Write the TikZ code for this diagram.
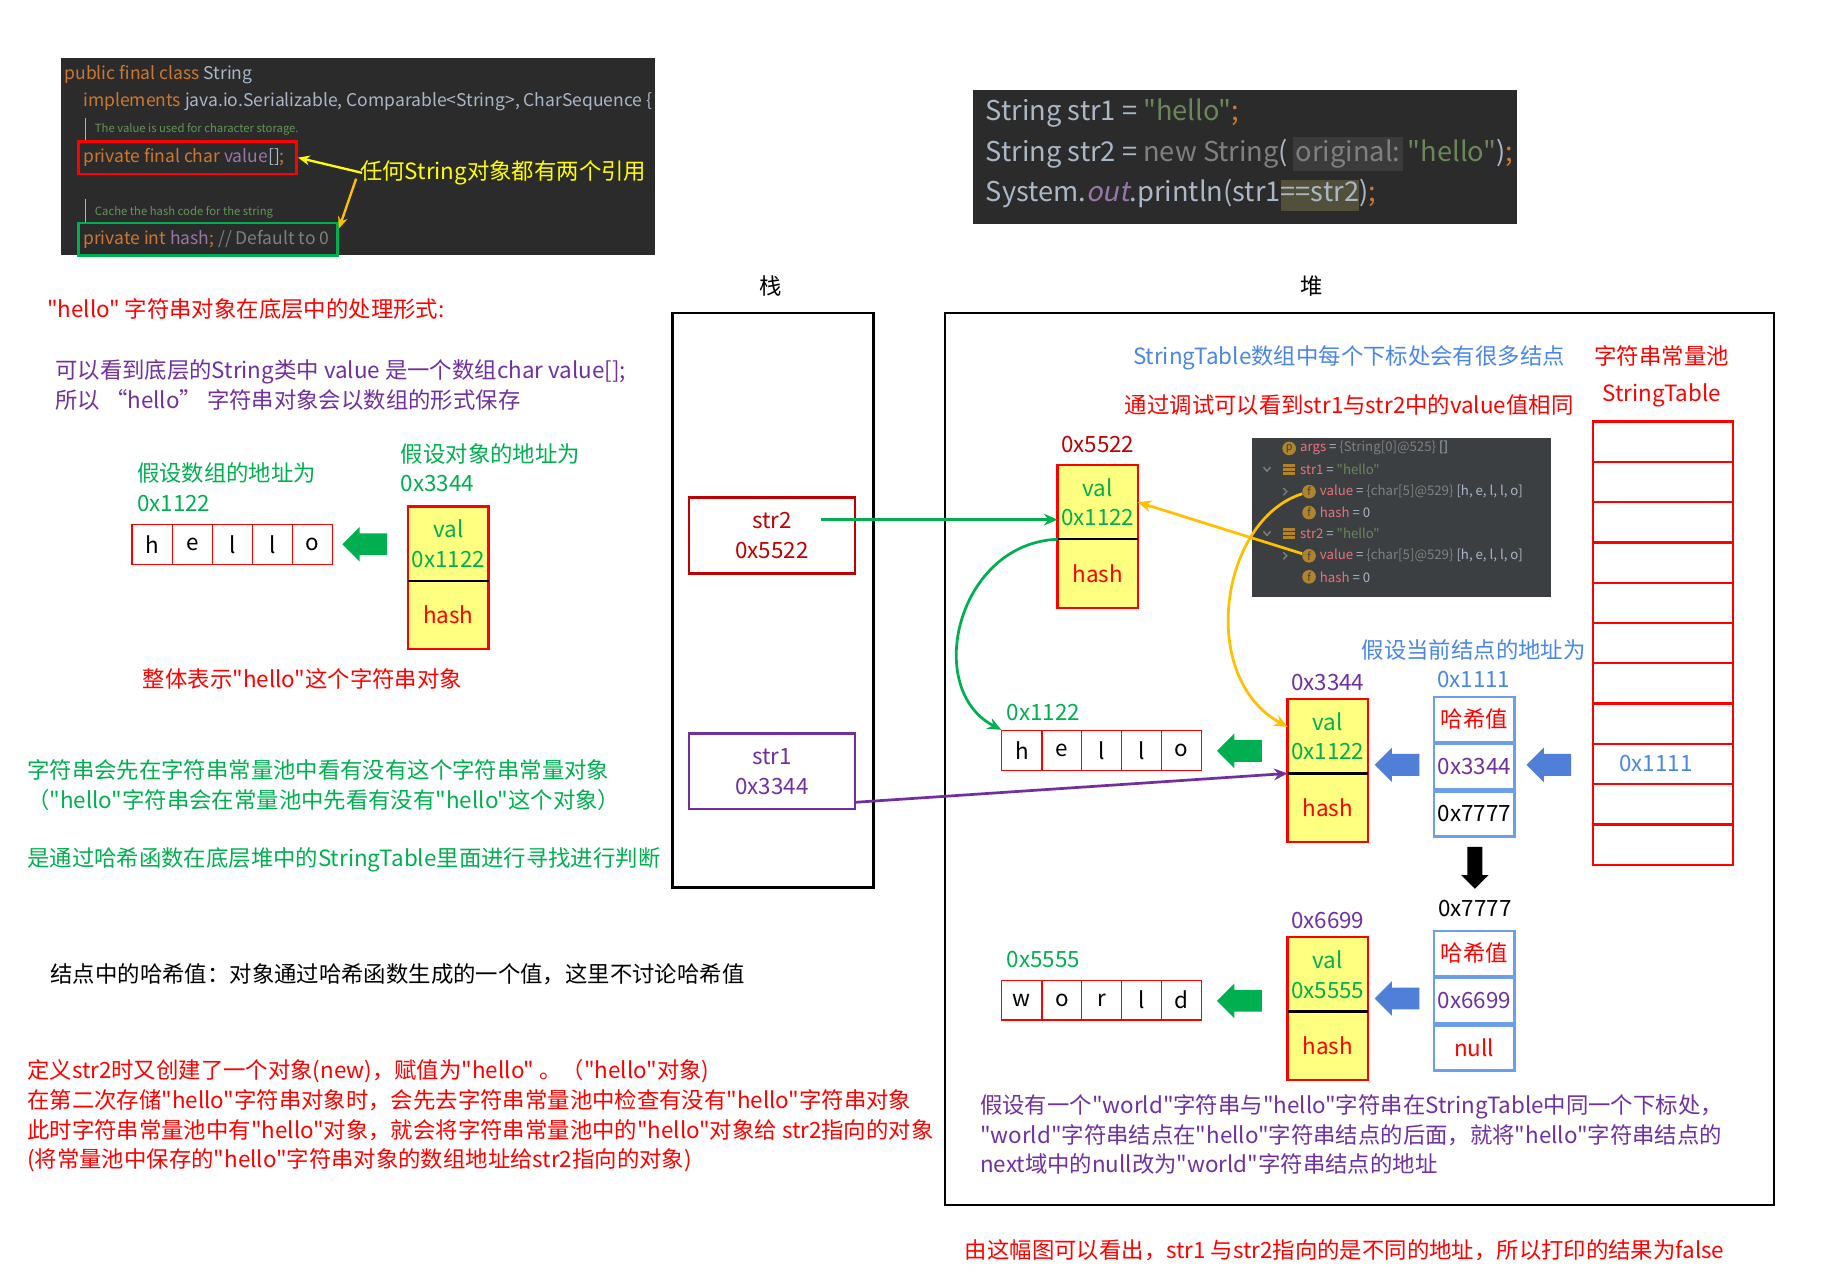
\documentclass[tikz,border=0pt]{standalone}
\usepackage{fontspec}
\setmainfont{Noto Sans CJK SC}[AutoFakeSlant=0.2,Ligatures=TeXOff]
\usetikzlibrary{shapes.arrows,arrows.meta,positioning,calc}
\definecolor{jred}{HTML}{FF0000}
\definecolor{jdark}{HTML}{C00000}
\definecolor{jgreen}{HTML}{00B050}
\definecolor{jpurple}{HTML}{7030A0}
\definecolor{jblue}{HTML}{4A86E8}
\definecolor{arrblue}{HTML}{4F7FD6}
\definecolor{nodeblue}{HTML}{6D9EEB}
\definecolor{objfill}{HTML}{FFFF80}
\definecolor{jorange}{HTML}{FFC000}
\definecolor{jyellow}{HTML}{FFFF00}
\definecolor{codebg}{HTML}{2B2B2B}
\definecolor{dbgbg}{HTML}{3C3F41}
\definecolor{kwor}{HTML}{CC7832}
\definecolor{idgray}{HTML}{A9B7C6}
\definecolor{strgrn}{HTML}{6A8759}
\definecolor{fldpur}{HTML}{9876AA}
\definecolor{cmtgrn}{HTML}{629755}
\definecolor{dimgray}{HTML}{808080}
\definecolor{inlaybg}{HTML}{3B3B3B}
\definecolor{hlbg}{HTML}{52503A}
\definecolor{dbgname}{HTML}{E5737D}
\definecolor{dbgicon}{HTML}{B0842C}
\newcommand{\mainsz}{\fontsize{11.5}{15.3}\selectfont}
\newcommand{\codesz}{\fontsize{9}{11}\selectfont}
\newcommand{\bigcode}{\fontsize{14}{16}\selectfont}
\newcommand{\tinysz}{\fontsize{5.8}{7}\selectfont}
\newcommand{\dbgsz}{\fontsize{6.8}{8}\selectfont}

\begin{document}
\begin{tikzpicture}[x=0.6pt,y=-0.6pt,font=\mainsz,
  every node/.style={inner sep=0pt},
  txt/.style={anchor=west,align=left},
  cell/.style={draw=jred,line width=0.6pt,minimum width=20.6pt,minimum height=20.4pt,text=black},
  objtop/.style={fill=objfill,minimum width=40.8pt,minimum height=37.8pt,align=center,text=jgreen},
  objbot/.style={fill=objfill,minimum width=40.8pt,minimum height=34.8pt,text=jred},
  objedge/.style={draw=jred,line width=1.2pt},
  hrow/.style={draw=nodeblue,line width=1.2pt,minimum width=41.4pt,minimum height=23.1pt},
  slot/.style={draw=jred,line width=1.2pt,minimum width=72pt,minimum height=20.7pt},
  blk/.style={single arrow,single arrow head extend=3.3pt,inner sep=5.4pt,minimum height=23pt,draw=none},
  link/.style={-{Stealth[length=7pt,width=6pt]},line width=1.4pt},
  stackvar/.style={line width=1.2pt,minimum width=85.2pt,minimum height=39pt,align=center},
  icon/.style={circle,fill=dbgicon,minimum size=7pt,font=\fontsize{5.5}{5.5}\selectfont,text=dbgbg}]
\path[use as bounding box,fill=white] (0,0) rectangle (1568,1100);

% source of String
\fill[codebg] (52,50) rectangle (561,218);
\node[txt,font=\codesz] (cl1) at (55,64) {\textcolor{kwor}{public final class} \textcolor{idgray}{String}};
\node[txt,font=\codesz] (cl2) at (71,87) {\textcolor{kwor}{implements} \textcolor{idgray}{java.io.Serializable, Comparable<String>, CharSequence \{}};
\draw[dimgray!60,line width=0.6pt] (73,101) -- (73,120);
\node[txt,font=\tinysz,text=cmtgrn] (cm1) at (81,111) {The value is used for character storage.};
\node[draw=jred,line width=1.5pt,minimum width=112.2pt,minimum height=16.8pt,font=\codesz] (codeVal) at (160.5,135)
  {\makebox[107pt][l]{\textcolor{kwor}{private final char} \textcolor{fldpur}{value}\textcolor{idgray}{[]}\textcolor{kwor}{;}}};
\draw[dimgray!60,line width=0.6pt] (73,170) -- (73,190);
\node[txt,font=\tinysz,text=cmtgrn] (cm2) at (81,182) {Cache the hash code for the string};
\node[draw=jgreen,line width=1.5pt,minimum width=133.2pt,minimum height=16.8pt,font=\codesz] (codeHash) at (178,205)
  {\makebox[128pt][l]{\textcolor{kwor}{private int} \textcolor{fldpur}{hash}\textcolor{kwor}{;} \textcolor{dimgray}{// Default to 0}}};
\node[txt,text=jyellow] (twoRef) at (308,148) {任何String对象都有两个引用};
\draw[-{Stealth[length=6pt,width=5pt]},jyellow,line width=1.2pt] ($(twoRef.west)+(2,0)$) -- (codeVal.east);
\draw[-{Stealth[length=6pt,width=5pt]},jorange,line width=1.2pt] ($(twoRef.west)+(-3,5)$) -- ($(codeHash.north east)+(0,6)$);

% test code
\fill[codebg] (833,77) rectangle (1299,192);
\node[txt,font=\bigcode] (m1) at (844,97) {\textcolor{idgray}{String str1 = }\textcolor{strgrn}{"hello"}\textcolor{kwor}{;}};
\node[txt,font=\bigcode] (m2) at (844,132) {\textcolor{idgray}{String str2 = }\textcolor{dimgray}{new String}\textcolor{idgray}{(}\,{\fboxsep=1.5pt\colorbox{inlaybg}{\textcolor{dimgray}{original:}}}\,\textcolor{strgrn}{"hello"}\textcolor{idgray}{)}\textcolor{kwor}{;}};
\node[txt,font=\bigcode] (m3) at (844,167) {\textcolor{idgray}{System.}\textcolor{fldpur}{\itshape out}\textcolor{idgray}{.println(str1}{\fboxsep=0pt\colorbox{hlbg}{\strut\textcolor{idgray}{==str2}}}\textcolor{idgray}{)}\textcolor{kwor}{;}};

% left notes
\node[txt,text=jred] (title) at (40,265) {"hello" 字符串对象在底层中的处理形式:};
\node[txt,text=jpurple] (note1) at (47,329.5) {可以看到底层的String类中 value 是一个数组char value[];\\所以 “hello” 字符串对象会以数组的形式保存};
\node[txt,text=jgreen] (arrAddr) at (117,417.5) {假设数组的地址为\\0x1122};
\node[txt,text=jgreen] (objAddr) at (343,400.5) {假设对象的地址为\\0x3344};
\foreach \ch [count=\i] in {h,e,l,l,o}
  \node[cell] (arrA\i) at ({113+34.4*\i-17.2},466.5) {\ch};
\node[blk,fill=jgreen,shape border rotate=180] (gA) at (317,466) {};
\node[objtop] (oLt) at (384,465.5) {val\\0x1122};
\node[objbot,below=0pt of oLt] (oLb) {hash};
\draw[objedge] (oLt.north west) rectangle (oLb.south east);
\draw[line width=1.2pt] (oLt.south west) -- (oLt.south east);
\node[text=jred] (whole) at (259,581) {整体表示"hello"这个字符串对象};
\node[txt,text=jgreen] (note2) at (23,672.5) {字符串会先在字符串常量池中看有没有这个字符串常量对象\\（"hello"字符串会在常量池中先看有没有"hello"这个对象）};
\node[txt,text=jgreen] (note3) at (23,736) {是通过哈希函数在底层堆中的StringTable里面进行寻找进行判断};
\node[txt] (note4) at (43,834) {结点中的哈希值：对象通过哈希函数生成的一个值，这里不讨论哈希值};
\node[txt,text=jred] (note5) at (23,955.5) {定义str2时又创建了一个对象(new)，赋值为"hello" 。（"hello"对象)\\在第二次存储"hello"字符串对象时，会先去字符串常量池中检查有没有"hello"字符串对象\\此时字符串常量池中有"hello"对象，就会将字符串常量池中的"hello"对象给 str2指向的对象\\(将常量池中保存的"hello"字符串对象的数组地址给str2指向的对象)};

% stack and heap
\node (stackT) at (660,245) {栈};
\node (heapT) at (1123,245) {堆};
\node[draw,line width=1.2pt,minimum width=103.2pt,minimum height=295.2pt] (stack) at (662,514) {};
\node[draw,line width=1.2pt,minimum width=426pt,minimum height=458.4pt] (heap) at (1164,650) {};
\node[stackvar,draw=jdark,text=jdark] (str2) at (661,458.5) {str2\\0x5522};
\node[stackvar,draw=jpurple,text=jpurple] (str1) at (661,660.5) {str1\\0x3344};

% heap notes
\node[txt,text=jblue] (tblNote) at (970,306) {StringTable数组中每个下标处会有很多结点};
\node[text=jred,align=center,font=\fontsize{11.5}{19.2}\selectfont] (poolT) at (1423,322) {字符串常量池\\StringTable};
\node[txt,text=jred] (dbgNote) at (963,347) {通过调试可以看到str1与str2中的value值相同};

% debugger view
\fill[dbgbg] (1072,375) rectangle (1328,511);
\node[icon] (ip) at (1104,384) {p};
\node[txt,font=\dbgsz] (dArgs) at (1113,384) {\textcolor{dbgname}{args} \textcolor{idgray}{=} \textcolor{dimgray}{\{String[0]@525\}} \textcolor{idgray}{[]}};
\foreach \v/\yy in {str1/402,str2/457}{
  \draw[dimgray,line width=0.7pt] (1082,\yy-2) -- (1085,\yy+1.5) -- (1088,\yy-2);
  \foreach \d in {-3.5,0,3.5} \draw[dbgicon,line width=1.3pt] (1099,\yy+\d) -- (1109,\yy+\d);
  \node[txt,font=\dbgsz] (d\v) at (1113,\yy) {\textcolor{dbgname}{\v} \textcolor{idgray}{=} \textcolor{strgrn}{"hello"}};
  \draw[dimgray,line width=0.7pt] (1099,\yy+16) -- (1102,\yy+19) -- (1099,\yy+22);
  \node[icon] (fv\v) at (1121,\yy+19) {f};
  \node[txt,font=\dbgsz] (dv\v) at (1130,\yy+19) {\textcolor{dbgname}{value} \textcolor{idgray}{=} \textcolor{dimgray}{\{char[5]@529\}} \textcolor{idgray}{[h, e, l, l, o]}};
  \node[icon] (fh\v) at (1121,\yy+37) {f};
  \node[txt,font=\dbgsz] (dh\v) at (1130,\yy+37) {\textcolor{dbgname}{hash} \textcolor{idgray}{= 0}};
}

% object of str2
\node[text=jdark] (aAddr) at (940,381) {0x5522};
\node[objtop] (oAt) at (940,430) {val\\0x1122};
\node[objbot,below=0pt of oAt] (oAb) {hash};
\draw[objedge] (oAt.north west) rectangle (oAb.south east);
\draw[line width=1.2pt] (oAt.south west) -- (oAt.south east);

% hello array in the heap
\node[txt,text=jgreen] (bAddr) at (862,610) {0x1122};
\foreach \ch [count=\i] in {h,e,l,l,o}
  \node[cell] (arrB\i) at ({858+34.2*\i-17.1},642.5) {\ch};
\node[blk,fill=jgreen,shape border rotate=180] (gB) at (1066,643) {};

% object of str1
\node[objtop] (oBt) at (1137,630.5) {val\\0x1122};
\node[objbot,below=0pt of oBt] (oBb) {hash};
\draw[objedge] (oBt.north west) rectangle (oBb.south east);
\draw[line width=1.2pt] (oBt.south west) -- (oBt.south east);
\node[text=jpurple,above=4pt of oBt] (oBAddr) {0x3344};

% entry 0x1111
\node[text=jblue,align=center,font=\fontsize{11.5}{15}\selectfont] (cAddr) at (1262,568.5) {假设当前结点的地址为\\0x1111};
\node[hrow,text=jred] (c1) at (1262.5,616) {哈希值};
\node[hrow,text=jpurple,below=0pt of c1] (c2) {0x3344};
\node[hrow,below=0pt of c2] (c3) {0x7777};
\node[blk,fill=arrblue,shape border rotate=180] (bC) at (1201,655) {};
\node[blk,fill=arrblue,shape border rotate=180] (bT) at (1331,655) {};

% StringTable
\foreach \i in {1,...,11}
  \node[slot] (st\i) at (1424,{361+34.5*\i-17.25}) {};
\node[text=jblue] (stAddr) at ($(st9.center)+(-6,0)$) {0x1111};

% entry 0x7777
\node[blk,fill=black,shape border rotate=270,inner sep=3.6pt,minimum height=21.6pt] (down) at (1263,740) {};
\node (dAddr) at (1263,778) {0x7777};
\node[hrow,text=jred] (e1) at (1262.5,816.5) {哈希值};
\node[hrow,text=jpurple,below=0pt of e1] (e2) {0x6699};
\node[hrow,text=jred,below=0pt of e2] (e3) {null};
\node[blk,fill=arrblue,shape border rotate=180] (bE) at (1201,855) {};

% world object
\node[objtop] (oEt) at (1137,834.5) {val\\0x5555};
\node[objbot,below=0pt of oEt] (oEb) {hash};
\draw[objedge] (oEt.north west) rectangle (oEb.south east);
\draw[line width=1.2pt] (oEt.south west) -- (oEt.south east);
\node[text=jpurple,above=4pt of oEt] (oEAddr) {0x6699};
\node[blk,fill=jgreen,shape border rotate=180] (gE) at (1066,857) {};
\node[txt,text=jgreen] (wAddr) at (862,822) {0x5555};
\foreach \ch [count=\i] in {w,o,r,l,d}
  \node[cell] (arrW\i) at ({858+34.2*\i-17.1},856.5) {\ch};

\node[txt,text=jpurple] (note6) at (839,971.5) {假设有一个"world"字符串与"hello"字符串在StringTable中同一个下标处，\\"world"字符串结点在"hello"字符串结点的后面，就将"hello"字符串结点的\\next域中的null改为"world"字符串结点的地址};
\node[txt,text=jred] (result) at (826,1071) {由这幅图可以看出，str1 与str2指向的是不同的地址，所以打印的结果为false};

% references
\coordinate (s2out) at (703,445);
\draw[link,jgreen] (s2out) -- (s2out -| oAt.west);
\draw[link,jgreen] (oAt.south west) .. controls (820,465) and (790,590) .. (arrB1.north west);
\draw[link,jpurple] ($(str1.south east)+(0,-7)$) -- (oBt.south west);
\draw[link,jorange] (fvstr2) -- (oAt.east);
\draw[link,jorange] (fvstr1) .. controls (1045,445) and (1025,580) .. ($(oBt.west)+(0,-8)$);
\end{tikzpicture}
\end{document}
